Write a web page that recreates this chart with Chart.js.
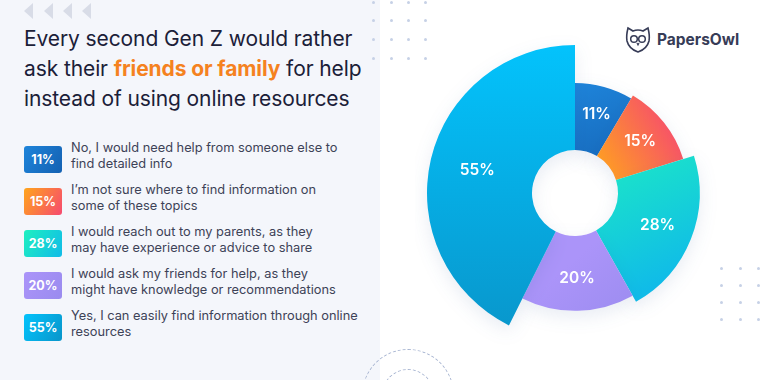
<!DOCTYPE html>
<html>
<head>
<meta charset="utf-8">
<script src="https://cdn.jsdelivr.net/npm/chart.js@4"></script>
<style>
  html, body { margin: 0; padding: 0; }
  body { width: 760px; height: 380px; position: relative; overflow: hidden; background: #fff; font-family: Inter, "Noto Sans", sans-serif; }
  #panel { position: absolute; left: 0; top: 0; width: 380px; height: 380px; background: #f4f6fb; }
  .chev { position: absolute; top: 3px; width: 0; height: 0; border-top: 8px solid transparent; border-bottom: 8px solid transparent; border-right: 9px solid #d8dce7; }
  #title { position: absolute; left: 24px; top: 24px; font-size: 21px; line-height: 30px; color: #1b2038; letter-spacing: -0.1px; }
  #title b { color: #f5821f; font-weight: 700; }
  #legend { position: absolute; left: 24px; top: 146px; }
  .row { position: relative; height: 42px; }
  .badge { position: absolute; left: 0; top: 0; width: 38px; height: 27px; border-radius: 3px; color: #fff; font-size: 12.5px; font-weight: 700; text-align: center; line-height: 27px; }
  .txt { position: absolute; left: 47px; top: -6px; width: 310px; font-size: 12.8px; line-height: 16px; color: #3d4257; }
  .dot { position: absolute; width: 3px; height: 3px; border-radius: 50%; background: #c6d1e6; }
  .ring { position: absolute; border: 1.2px dashed #a9b6d2; border-radius: 50%; }
  #logo { position: absolute; left: 625px; top: 24px; display: flex; align-items: center; }
  #logo span { font-size: 15.5px; font-weight: 700; color: #373c57; margin-left: 6px; }
  #chartBox { position: absolute; left: 415px; top: 33px; width: 320px; height: 320px; }
</style>
</head>
<body>
<div id="panel"></div>
<div class="chev" style="left:24px"></div>
<div class="chev" style="left:44px"></div>
<div class="chev" style="left:63px"></div>
<div class="chev" style="left:82px"></div>
<div id="title">Every second Gen Z would rather<br>ask their <b>friends or family</b> for help<br>instead of using online resources</div>
<div id="legend"></div>
<div id="dots"></div>
<div class="ring" style="left:362px;top:349px;width:90px;height:90px"></div>
<div class="ring" style="left:382px;top:369px;width:50px;height:50px"></div>
<div id="logo">
  <svg width="26" height="30" viewBox="0 0 26 30">
    <path d="M3 4 L8 7 Q13 5 18 7 L23 4 Q25 12 24 17 Q22 25 13 28 Q4 25 2 17 Q1 12 3 4 Z" fill="none" stroke="#373c57" stroke-width="1.6"/>
    <circle cx="9" cy="15" r="3.3" fill="none" stroke="#373c57" stroke-width="1.5"/>
    <circle cx="17" cy="15" r="3.3" fill="none" stroke="#373c57" stroke-width="1.5"/>
    <path d="M12 19 L13 21 L14 19" fill="none" stroke="#373c57" stroke-width="1.2"/>
  </svg>
  <span>PapersOwl</span>
</div>
<div id="chartBox"><canvas id="pie" width="320" height="320"></canvas></div>

<script>
// data
const labels = [
  'No, I would need help from someone else to<br>find detailed info',
  'I\u2019m not sure where to find information on<br>some of these topics',
  'I would reach out to my parents, as they<br>may have experience or advice to share',
  'I would ask my friends for help, as they<br>might have knowledge or recommendations',
  'Yes, I can easily find information through online<br>resources'
];
const values = [11, 15, 28, 20, 55];

// colours (start, end) per slice
const gradStart = ['#1e84da', '#ffa51c', '#1ef0c0', '#ab94f9', '#03c3fc'];
const gradEnd = ['#1461b2', '#f64a70', '#10bbe8', '#9a8bef', '#0995ca'];

// legend
const legend = document.getElementById('legend');
values.forEach((v, i) => {
  legend.innerHTML += `<div class="row"><div class="badge" style="background:linear-gradient(120deg, ${gradStart[i]}, ${gradEnd[i]})">${v}%</div><div class="txt">${labels[i]}</div></div>`;
});

// decorative dots
const dots = document.getElementById('dots');
[[373, 391, 408, 425], [721, 740, 758]].forEach((xs, k) => {
  const ys = k === 0 ? [2, 20, 39, 58] : [268, 285, 302, 319];
  xs.forEach(x => ys.forEach(y => {
    dots.innerHTML += `<div class="dot" style="left:${x - 1}px;top:${y - 1}px"></div>`;
  }));
});

const INNER = 43, R_MIN = 110, R_MAX = 148;
const vMin = Math.min(...values), vMax = Math.max(...values);

function sliceColor(ctx) {
  const chart = ctx.chart, a = chart.chartArea;
  const i = ctx.dataIndex;
  if (!a) return gradStart[i];
  const cx = (a.left + a.right) / 2, cy = (a.top + a.bottom) / 2;
  const dirs = [
    [cx, cy - 110, cx + 40, cy],
    [cx + 20, cy - 20, cx + 105, cy - 70],
    [cx + 40, cy - 70, cx + 110, cy + 80],
    [cx + 30, cy + 40, cx + 90, cy + 110],
    [cx, cy - 150, cx, cy + 150]
  ];
  const d = dirs[i];
  const g = chart.ctx.createLinearGradient(d[0], d[1], d[2], d[3]);
  g.addColorStop(0, gradStart[i]);
  g.addColorStop(1, gradEnd[i]);
  return g;
}

// outer radius follows the value, labels in the ring
const radiusPlugin = {
  id: 'radiusByValue',
  afterUpdate(chart) {
    chart.getDatasetMeta(0).data.forEach((arc, i) => {
      arc.outerRadius = R_MIN + (R_MAX - R_MIN) * (values[i] - vMin) / (vMax - vMin);
      arc.innerRadius = INNER;
    });
  },
  beforeDatasetsDraw(chart) {
    const c = chart.ctx;
    c.save();
    c.shadowColor = 'rgba(30, 70, 140, 0.10)';
    c.shadowBlur = 18;
    c.shadowOffsetY = 6;
  },
  afterDatasetsDraw(chart) {
    const c = chart.ctx;
    c.restore();
    c.save();
    c.fillStyle = '#fff';
    c.font = '600 15.5px Inter, "Noto Sans", sans-serif';
    c.textAlign = 'center';
    c.textBaseline = 'middle';
    chart.getDatasetMeta(0).data.forEach((arc, i) => {
      const mid = (arc.startAngle + arc.endAngle) / 2;
      const r = (arc.innerRadius + arc.outerRadius) / 2 + 5;
      c.fillText(values[i] + '%', arc.x + Math.cos(mid) * r, arc.y + Math.sin(mid) * r);
    });
    c.restore();
  }
};

new Chart(document.getElementById('pie'), {
  type: 'doughnut',
  data: {
    labels: labels.map(l => l.replace('<br>', ' ')),
    datasets: [{
      data: values,
      backgroundColor: sliceColor,
      borderWidth: 0
    }]
  },
  options: {
    responsive: false,
    animation: false,
    cutout: INNER,
    layout: { padding: 0 },
    plugins: { legend: { display: false }, tooltip: { enabled: false } }
  },
  plugins: [radiusPlugin]
});
</script>
</body>
</html>
